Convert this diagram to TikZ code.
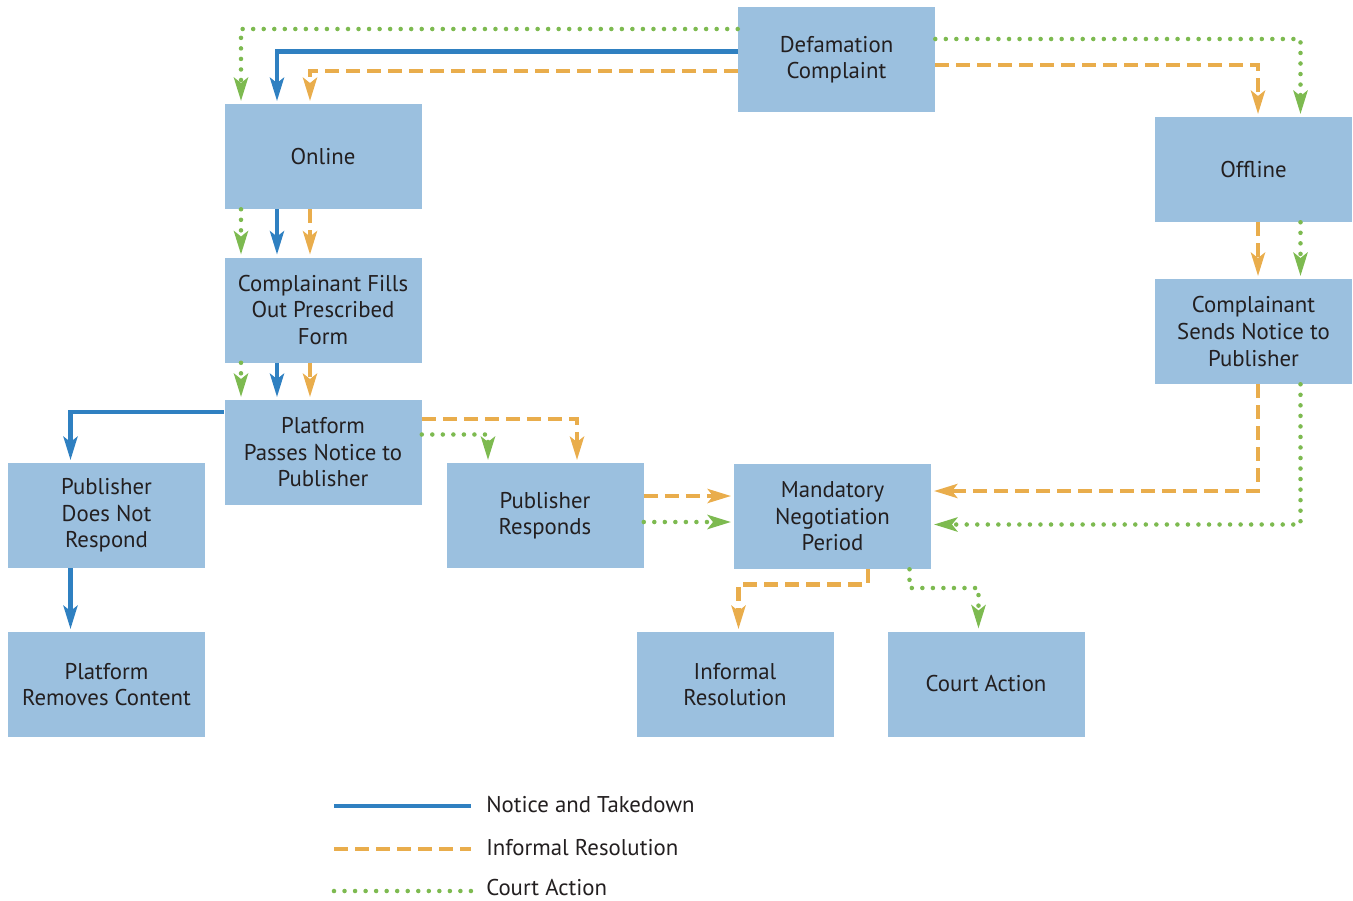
\documentclass[tikz,border=0pt]{standalone}
\usepackage{fontspec}
\setmainfont{PT Sans}
\usetikzlibrary{arrows.meta,calc}
\definecolor{boxblue}{HTML}{9BC0DF}
\definecolor{ntblue}{HTML}{2F80C1}
\definecolor{irorange}{HTML}{E9AD4C}
\definecolor{cagreen}{HTML}{7DBA50}
\definecolor{txt}{HTML}{231F20}
\tikzset{
  box/.style={rectangle, fill=boxblue, minimum width=147.75pt, minimum height=78.75pt,
    inner sep=0pt, align=center, text=txt, font=\fontsize{17.1}{19.9}\selectfont},
  tip/.style={-{Stealth[length=17.5pt,width=10.5pt,inset=4pt]}, shorten >=2pt},
  ntline/.style={draw=ntblue, line width=3.2pt},
  irline/.style={draw=irorange, line width=3.2pt, dash pattern=on 10.5pt off 5.25pt},
  caline/.style={draw=cagreen, line width=3.4pt, line cap=round, dash pattern=on 0pt off 7.9pt},
  legtext/.style={anchor=west, text=txt, inner sep=0pt, font=\fontsize{17.1}{19.9}\selectfont},
}
\begin{document}
\begin{tikzpicture}[x=0.75pt,y=-0.75pt]
\useasboundingbox (0,0) rectangle (1353,900);
% boxes
\node[box] (def) at (836.5,59.5) {Defamation\\Complaint};
\node[box] (online) at (323,156.5) {Online};
\node[box] (offline) at (1253.5,169.5) {Offline};
\node[box] (fills) at (323,310) {Complainant Fills\\Out Prescribed\\Form};
\node[box] (sends) at (1253.5,331.5) {Complainant\\Sends Notice to\\Publisher};
\node[box] (passes) at (323,452.5) {Platform\\Passes Notice to\\Publisher};
\node[box] (notresp) at (106.5,515.5) {Publisher\\Does Not\\Respond};
\node[box] (responds) at (545,515.5) {Publisher\\Responds};
\node[box] (mand) at (832.5,516.5) {Mandatory\\Negotiation\\Period};
\node[box] (removes) at (106.5,684.5) {Platform\\Removes Content};
\node[box] (informal) at (735,684.5) {Informal\\Resolution};
\node[box] (court) at (986,684) {Court Action};

% Defamation -> Online
\draw[caline,tip] (def.west |- 0,29) -| (online.north -| 241,0);
\draw[ntline,tip] (def.west |- 0,51.5) -| (online.north -| 277,0);
\draw[irline,tip] (def.west |- 0,71) -| (online.north -| 310,0);
% Defamation -> Offline
\draw[caline,tip] (def.east |- 0,39) -| (offline.north -| 1300.5,0);
\draw[irline,tip] (def.east |- 0,65) -| (offline.north -| 1258,0);
% Online -> Fills
\draw[caline,tip] (online.south -| 241,0) -- (fills.north -| 241,0);
\draw[ntline,tip] (online.south -| 277,0) -- (fills.north -| 277,0);
\draw[irline,tip] (online.south -| 310,0) -- (fills.north -| 310,0);
% Fills -> Passes
\draw[caline,tip] (fills.south -| 241,0) -- (passes.north -| 241,0);
\draw[ntline,tip] (fills.south -| 277,0) -- (passes.north -| 277,0);
\draw[irline,tip] (fills.south -| 310,0) -- (passes.north -| 310,0);
% Passes -> Publisher Does Not Respond / Responds
\draw[ntline,tip] (passes.west |- 0,412) -| (notresp.north -| 70.5,0);
\draw[irline,tip] (passes.east |- 0,419) -| (responds.north -| 577,0);
\draw[caline,tip] (passes.east |- 0,434.5) -| (responds.north -| 488,0);
% Not respond -> Removes
\draw[ntline,tip] (notresp.south -| 70.5,0) -- (removes.north -| 70.5,0);
% Responds -> Mandatory
\draw[irline,tip] (responds.east |- 0,496) -- (mand.west |- 0,496);
\draw[caline,tip] (responds.east |- 0,522) -- (mand.west |- 0,522);
% Offline -> Sends
\draw[irline,tip] (offline.south -| 1258,0) -- (sends.north -| 1258,0);
\draw[caline,tip] (offline.south -| 1300.5,0) -- (sends.north -| 1300.5,0);
% Sends -> Mandatory
\draw[irline,tip] (sends.south -| 1258,0) |- (mand.east |- 0,491);
\draw[caline,tip] (sends.south -| 1300.5,0) |- (mand.east |- 0,524.5);
% Mandatory -> Informal / Court
\draw[irline,tip] (mand.south -| 868,0) |- (800,584.5) -| (informal.north -| 738.5,0);
\draw[caline,tip] (mand.south -| 909.5,0) |- (950,588) -| (court.north -| 978.5,0);

% legend
\coordinate (l1a) at (334,806); \coordinate (l1b) at (471,806);
\coordinate (l2a) at (334,849); \coordinate (l2b) at (471,849);
\coordinate (l3a) at (334,891); \coordinate (l3b) at (471,891);
\draw[ntline] (l1a) -- (l1b);
\draw[irline] (l2a) -- (l2b);
\draw[caline] (l3a) -- (l3b);
\node[legtext] (t1) at (486,805) {Notice and Takedown};
\node[legtext] (t2) at (486,848) {Informal Resolution};
\node[legtext] (t3) at (486,888) {Court Action};
\end{tikzpicture}
\end{document}
